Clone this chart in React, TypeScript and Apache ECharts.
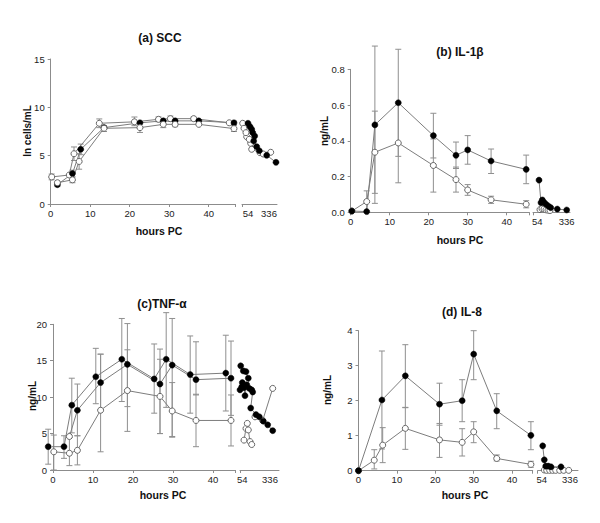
import React, { useEffect, useRef } from "react";
import * as echarts from "echarts";

// ---------- tick labels ----------
const hourTicks = [0, 10, 20, 30, 40];
const breakLabels = ["54", "336"];
const panelTitles = ["(a) SCC", "(b) IL-1β", "(c)TNF-α", "(d) IL-8"];
const yNames = ["ln cells/mL", "ng/mL", "ng/mL", "ng/mL"];
const xName = "hours PC";

// ---------- (a) SCC ----------
const A_top = [[0.25, 2.8], [4.7, 3.0], [5.9, 5.2], [12.3, 8.35], [21.2, 8.5], [27.3, 8.76], [30.3, 8.83], [36.2, 8.83], [45.2, 8.4]];
const A_topErr = [[0.25, 2.5, 3.1], [5.9, 4.5, 5.9], [12.3, 7.9, 8.8], [21.2, 8.1, 9.0], [27.3, 8.5, 9.0], [30.3, 8.55, 9.1], [36.2, 8.65, 9.0]];
const A_filled = [[1.7, 2.0], [5.5, 3.15], [7.6, 5.66], [13.5, 7.9], [22.6, 8.4], [28.5, 8.6], [31.5, 8.6], [37.5, 8.6], [46.4, 8.4]];
const A_filledErr = [[1.7, 1.8, 2.2], [5.5, 2.8, 3.5], [7.6, 5.1, 6.2], [46.4, 8.2, 8.6]];
const A_bottom = [[1.7, 2.2], [5.5, 2.5], [7.2, 4.4], [13.5, 7.83], [22.6, 7.9], [28.5, 8.24], [31.5, 8.24], [37.5, 8.24], [46.4, 7.8]];
const A_bottomErr = [[5.5, 2.2, 2.8], [7.2, 3.6, 5.2], [13.5, 7.5, 8.1], [22.6, 7.4, 8.4], [28.5, 7.9, 8.6], [31.5, 8.0, 8.5], [46.4, 7.5, 8.1]];
const AR_filled = [[6, 8.35], [8, 8.0], [9.7, 7.73], [10.7, 7.38], [12.7, 7.03], [11.7, 6.52], [14.7, 5.93], [17.3, 5.51], [24.7, 5.04], [34, 4.31]];
const AR_open1 = [[0.7, 8.35], [2, 7.83], [4.7, 6.96], [8.7, 6.28], [18, 5.31], [28.7, 5.35]];
const AR_open2 = [[4, 7.38], [7.3, 6.69], [9.7, 5.66], [21.3, 5.17]];

// ---------- (b) IL-1β ----------
const B_filled = [[0.3, 0.007], [4.1, 0.004], [6.2, 0.489], [12.2, 0.613], [21.2, 0.429], [27, 0.319], [30, 0.349], [36, 0.287], [45, 0.24]];
const B_filledErr = [[6.2, 0.05, 0.93], [12.2, 0.313, 0.912], [21.2, 0.304, 0.554], [27, 0.245, 0.393], [30, 0.269, 0.429], [36, 0.217, 0.354], [45, 0.16, 0.32]];
const B_open = [[0.3, 0.007], [4.1, 0.06], [6.2, 0.336], [12.2, 0.388], [21.2, 0.262], [27, 0.183], [30, 0.125], [36, 0.07], [45, 0.045]];
const B_openErr = [[4.1, 0, 0.12], [6.2, 0.106, 0.566], [12.2, 0.165, 0.61], [21.2, 0.113, 0.41], [27, 0.113, 0.253], [30, 0.095, 0.155], [36, 0.05, 0.09], [45, 0.025, 0.065]];
const BR_filled = [[6, 0.18], [8, 0.054], [9.3, 0.069], [11, 0.056], [13, 0.045], [15.3, 0.035], [17.7, 0.026], [24.3, 0.018], [33.7, 0.013]];
const BR_open = [[7, 0.015], [9, 0.02], [11, 0.018], [13, 0.014], [15, 0.012], [17, 0.01]];

// ---------- (c) TNF-α ----------
const C_f1 = [[-1.2, 3.2], [2.75, 3.2], [4.7, 8.9], [10.7, 12.8], [17.2, 15.2], [25.3, 12.5], [28.3, 15.2], [34.3, 13.1], [43.2, 13.3]];
const C_f1Err = [[-1.2, 0.8, 5.6], [2.75, 1.6, 4.7], [4.7, 5.1, 12.6], [10.7, 9.1, 16.7], [17.2, 9.4, 20.8], [25.3, 7.8, 17.3], [28.3, 8.6, 21.6], [34.3, 7.8, 18.4], [43.2, 8.1, 18.5]];
const C_f2 = [[4.1, 4.6], [6.1, 8.2], [11.9, 12.0], [18.6, 14.5], [26.75, 11.8], [29.8, 14.4], [35.75, 12.4], [44.5, 12.6]];
const C_f2Err = [[6.1, 4.7, 11.8], [11.9, 8.2, 15.9], [18.6, 8.7, 20.1], [26.75, 5.0, 16.6], [29.8, 4.6, 20.8], [35.75, 10.3, 17.6], [44.5, 7.5, 17.7]];
const C_open = [[0.2, 2.5], [4.1, 2.3], [6.1, 2.7], [11.9, 8.2], [18.6, 10.9], [26.75, 10.1], [29.8, 8.1], [35.75, 6.8], [44.5, 6.8]];
const C_openErr = [[0.2, 0, 4.8], [4.1, 0.6, 4.5], [6.1, 0.7, 4.7], [11.9, 2.5, 15.9], [18.6, 5.3, 16.5], [26.75, 5.0, 15.2], [29.8, 4.5, 12.0], [35.75, 3.2, 10.4], [44.5, 3.3, 10.3]];
const CR_f1 = [[0.7, 14.3], [3.3, 13.6], [6, 13.5], [8.3, 12.6], [9.3, 11.2], [11.7, 11.0], [12.7, 10.7], [10.7, 8.5], [16, 7.6], [19.3, 7.3], [23.3, 6.7], [27.7, 6.2], [32.7, 5.4]];
const CR_f2 = [[0, 11.0], [1.7, 11.4], [2.3, 12.0], [4, 11.3], [5, 10.2], [6.7, 11.7]];
const CR_open1 = [[4, 4.1], [6, 5.7], [7.3, 6.4], [8.3, 5.5], [10, 3.9], [11.7, 3.5]];
const CR_open2 = [[15, 7.3], [22.7, 6.8], [32.7, 11.2]];

// ---------- (d) IL-8 ----------
const D_filled = [[0, 0], [6.1, 2.02], [12.2, 2.71], [21.1, 1.9], [27, 2.0], [30, 3.33], [36, 1.71], [44.9, 1.01]];
const D_filledErr = [[6.1, 0.62, 3.42], [12.2, 1.8, 3.6], [21.1, 1.3, 2.5], [27, 1.4, 2.6], [30, 2.6, 4.0], [36, 1.2, 2.2], [44.9, 0.6, 1.4]];
const D_open = [[0, 0], [4.1, 0.3], [6.3, 0.73], [12.2, 1.21], [21.1, 0.88], [27, 0.81], [30, 1.11], [36, 0.35], [44.9, 0.18]];
const D_openErr = [[4.1, 0.05, 0.6], [6.3, 0.23, 1.23], [12.2, 0.61, 1.81], [21.1, 0.38, 1.35], [27, 0.42, 1.2], [30, 0.8, 1.4], [36, 0.28, 0.45], [44.9, 0.1, 0.27]];
const DR_filled = [[5, 0.71], [6.6, 0.31], [8, 0.13], [10.6, 0.13], [13.3, 0.11], [23.3, 0.11]];
const DR_open = [[6.6, 0.02], [9, 0.01], [12, 0.01], [15, 0.01], [18, 0.01], [22, 0.01], [26, 0.01], [31, 0.01]];

// ---------- layout (positions only) ----------
const layout = [
  { L: { left: 50.7, top: 59, width: 184.3, height: 145, max: 46.66 }, R: { left: 242, width: 35, lab: [6, 27] }, yMax: 15, yInt: 5, dec: 0,
    title: [160, 38], xn: [159, 231], yn: [27, 131] },
  { L: { left: 350.7, top: 69.3, width: 178.6, height: 143, max: 45.8 }, R: { left: 533, width: 37, lab: [4.3, 33.7] }, yMax: 0.8, yInt: 0.2, dec: 1,
    title: [460, 52], xn: [460, 240], yn: [324, 131] },
  { L: { left: 53, top: 324.3, width: 182, height: 145.7, max: 45.5 }, R: { left: 240, width: 39, lab: [2.3, 30] }, yMax: 20, yInt: 5, dec: 0,
    title: [162, 304], xn: [163, 495], yn: [32, 396] },
  { L: { left: 358.5, top: 330.7, width: 174.2, height: 140, max: 45.37 }, R: { left: 537.7, width: 40.3, lab: [4, 32.3] }, yMax: 4, yInt: 1, dec: 0,
    title: [462, 312], xn: [465, 495], yn: [327, 390] },
];

type Def = { data: number[][]; filled: boolean; side: number; err?: number[][]; firstOpen?: boolean };
const panelSeries: Def[][] = [
  [
    { data: A_top, filled: false, side: 0, err: A_topErr },
    { data: A_filled, filled: true, side: 0, err: A_filledErr },
    { data: A_bottom, filled: false, side: 0, err: A_bottomErr },
    { data: AR_open1, filled: false, side: 1 },
    { data: AR_open2, filled: false, side: 1 },
    { data: AR_filled, filled: true, side: 1 },
  ],
  [
    { data: B_open, filled: false, side: 0, err: B_openErr },
    { data: B_filled, filled: true, side: 0, err: B_filledErr },
    { data: BR_open, filled: false, side: 1 },
    { data: BR_filled, filled: true, side: 1 },
  ],
  [
    { data: C_open, filled: false, side: 0, err: C_openErr },
    { data: C_f1, filled: true, side: 0, err: C_f1Err },
    { data: C_f2, filled: true, side: 0, err: C_f2Err, firstOpen: true },
    { data: CR_open1, filled: false, side: 1 },
    { data: CR_open2, filled: false, side: 1 },
    { data: CR_f2, filled: true, side: 1 },
    { data: CR_f1, filled: true, side: 1 },
  ],
  [
    { data: D_open, filled: false, side: 0, err: D_openErr },
    { data: D_filled, filled: true, side: 0, err: D_filledErr },
    { data: DR_open, filled: false, side: 1 },
    { data: DR_filled, filled: true, side: 1 },
  ],
];

const FONT = '"Liberation Sans", Arial, sans-serif';
const AXIS_COLOR = "#8c8c8c";
const LINE_COLOR = "#7d7d7d";
const ERR_COLOR = "#8f8f8f";
const openStyle = { color: "#fff", borderColor: "#666", borderWidth: 1 };
const filledStyle = { color: "#000", borderColor: "#000", borderWidth: 0.5 };

function buildOption() {
  const grid: any[] = [];
  const xAxis: any[] = [];
  const yAxis: any[] = [];
  const series: any[] = [];
  const graphic: any[] = [];

  layout.forEach((p, i) => {
    const rMax = p.R.width;
    grid.push({ left: p.L.left, top: p.L.top, width: p.L.width, height: p.L.height, containLabel: false });
    grid.push({ left: p.R.left, top: p.L.top, width: p.R.width, height: p.L.height, containLabel: false });
    const axisCommon = {
      type: "value",
      splitLine: { show: false },
      axisLine: { show: true, lineStyle: { color: AXIS_COLOR, width: 1 } },
      axisTick: { show: true, length: 3, lineStyle: { color: AXIS_COLOR } },
      axisLabel: { fontFamily: FONT, fontSize: 9.5, color: "#222", margin: 4 },
    };
    xAxis.push({
      ...axisCommon, gridIndex: 2 * i, min: 0, max: p.L.max,
      axisTick: { ...axisCommon.axisTick, customValues: [...hourTicks, p.L.max] },
      axisLabel: { ...axisCommon.axisLabel, customValues: hourTicks },
    });
    xAxis.push({
      ...axisCommon, gridIndex: 2 * i + 1, min: 0, max: rMax,
      axisTick: { ...axisCommon.axisTick, customValues: [0] },
      axisLabel: {
        ...axisCommon.axisLabel, customValues: p.R.lab,
        formatter: (v: number) => (Math.abs(v - p.R.lab[0]) < 0.01 ? breakLabels[0] : breakLabels[1]),
      },
    });
    yAxis.push({
      ...axisCommon, gridIndex: 2 * i, min: 0, max: p.yMax, interval: p.yInt,
      axisLabel: { ...axisCommon.axisLabel, margin: 6, formatter: (v: number) => v.toFixed(p.dec) },
    });
    yAxis.push({ type: "value", gridIndex: 2 * i + 1, min: 0, max: p.yMax, show: false });

    panelSeries[i].forEach((d) => {
      const axisIdx = 2 * i + d.side;
      if (d.err) {
        series.push({
          type: "custom",
          xAxisIndex: axisIdx,
          yAxisIndex: axisIdx,
          data: d.err,
          clip: false,
          silent: true,
          z: 1,
          encode: { x: 0, y: [1, 2] },
          renderItem: (params: any, api: any) => {
            const x = api.value(0);
            const a = api.coord([x, api.value(2)]);
            const b = api.coord([x, api.value(1)]);
            const w = 3;
            const st = { stroke: ERR_COLOR, lineWidth: 1 };
            return {
              type: "group",
              children: [
                { type: "line", shape: { x1: a[0], y1: a[1], x2: b[0], y2: b[1] }, style: st },
                { type: "line", shape: { x1: a[0] - w, y1: a[1], x2: a[0] + w, y2: a[1] }, style: st },
                { type: "line", shape: { x1: b[0] - w, y1: b[1], x2: b[0] + w, y2: b[1] }, style: st },
              ],
            };
          },
        });
      }
      const data = d.data.map((pt, k) =>
        d.firstOpen && k === 0 ? { value: pt, itemStyle: openStyle } : pt
      );
      series.push({
        type: "line",
        xAxisIndex: axisIdx,
        yAxisIndex: axisIdx,
        data,
        clip: false,
        silent: true,
        z: 3,
        symbol: "circle",
        symbolSize: 6,
        showAllSymbol: true,
        lineStyle: { color: LINE_COLOR, width: 1 },
        itemStyle: d.filled ? filledStyle : openStyle,
        emphasis: { disabled: true },
      });
    });

    graphic.push({ type: "text", x: p.title[0], y: p.title[1], style: { text: panelTitles[i], font: `bold 12px ${FONT}`, fill: "#111", align: "center", verticalAlign: "middle" } });
    graphic.push({ type: "text", x: p.xn[0], y: p.xn[1], style: { text: xName, font: `bold 10.5px ${FONT}`, fill: "#111", align: "center", verticalAlign: "middle" } });
    graphic.push({ type: "text", x: p.yn[0], y: p.yn[1], rotation: Math.PI / 2, style: { text: yNames[i], font: `bold 10px ${FONT}`, fill: "#111", align: "center", verticalAlign: "middle" } });
  });

  return { animation: false, backgroundColor: "#fff", grid, xAxis, yAxis, series, graphic };
}

const App = () => {
  const ref = useRef<HTMLDivElement>(null);
  useEffect(() => {
    if (!ref.current) return;
    const chart = echarts.init(ref.current, null, { renderer: "svg" });
    chart.setOption(buildOption() as any);
    return () => chart.dispose();
  }, []);
  return (
    <div
      ref={ref}
      style={{ position: "absolute", left: 0, top: 0, width: 600, height: 523, background: "#fff" }}
    />
  );
};

export default App;
